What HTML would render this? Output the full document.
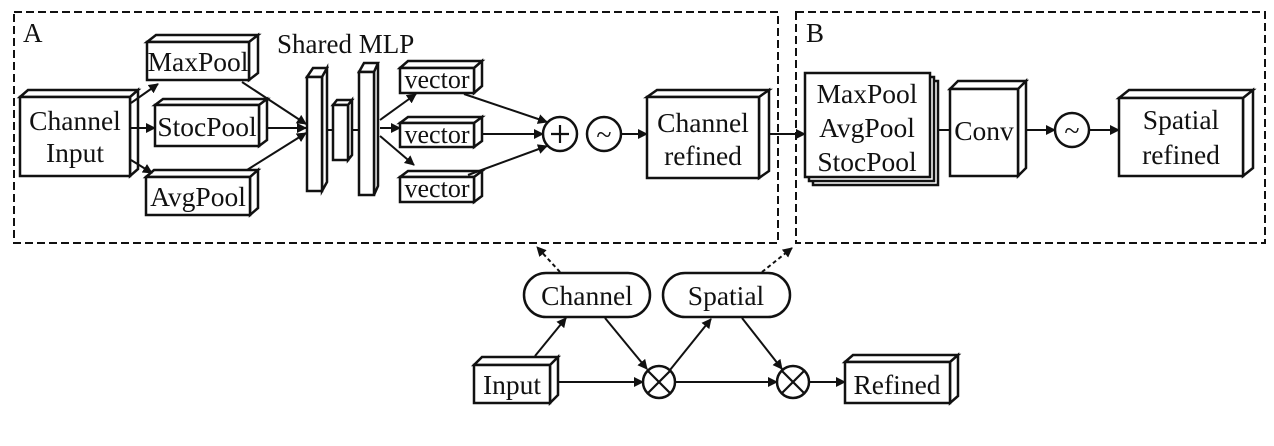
<!DOCTYPE html>
<html><head><meta charset="utf-8"><style>
body{margin:0;background:#fff}
svg{display:block}
text{font-family:"Liberation Serif",serif;fill:#111}
</style></head><body>
<svg width="1274" height="446" viewBox="0 0 1274 446" xmlns="http://www.w3.org/2000/svg">
<defs>
<marker id="a" markerWidth="10" markerHeight="10" refX="9" refY="5" orient="auto" markerUnits="userSpaceOnUse"><path d="M0,0 L10,5 L0,10 Z" fill="#111"/></marker>
</defs>
<g fill="none" stroke="#111" stroke-width="2" stroke-dasharray="8,4">
<rect x="14" y="12" width="764" height="231"/>
<rect x="796" y="12" width="469" height="231"/>
</g>
<text x="23" y="42" font-size="27">A</text>
<text x="806" y="42" font-size="27">B</text>
<text x="277" y="53" font-size="27">Shared MLP</text>

<g fill="#fff" stroke="#111" stroke-width="2.5" stroke-linejoin="miter">
<path d="M20,97 L28,90 L138,90 L130,97 Z M130,97 L138,90 L138,169 L130,176 Z"/><rect x="20" y="97" width="110" height="79"/>
<path d="M147,42 L156,35 L258,35 L249,42 Z M249,42 L258,35 L258,73 L249,80 Z"/><rect x="147" y="42" width="102" height="38"/>
<path d="M155,105 L163,99 L267,99 L259,105 Z M259,105 L267,99 L267,140 L259,146 Z"/><rect x="155" y="105" width="104" height="41"/>
<path d="M146,177 L154,170 L258,170 L250,177 Z M250,177 L258,170 L258,208 L250,215 Z"/><rect x="146" y="177" width="104" height="38"/>
<path d="M307,77 L313,68 L327,68 L322,77 Z M322,77 L327,68 L327,182 L322,191 Z"/><rect x="307" y="77" width="15" height="114"/>
<path d="M333,105 L337,100 L352,100 L348,105 Z M348,105 L352,100 L352,155 L348,160 Z"/><rect x="333" y="105" width="15" height="55"/>
<path d="M359,72 L364,63 L378,63 L374,72 Z M374,72 L378,63 L378,186 L374,195 Z"/><rect x="359" y="72" width="15" height="123"/>
<path d="M400,68 L408,61 L482,61 L474,68 Z M474,68 L482,61 L482,86 L474,93 Z"/><rect x="400" y="68" width="74" height="25"/>
<path d="M400,123 L408,117 L482,117 L474,123 Z M474,123 L482,117 L482,141 L474,147 Z"/><rect x="400" y="123" width="74" height="24"/>
<path d="M400,177 L408,171 L482,171 L474,177 Z M474,177 L482,171 L482,196 L474,202 Z"/><rect x="400" y="177" width="74" height="25"/>
<path d="M647,97 L657,90 L769,90 L759,97 Z M759,97 L769,90 L769,171 L759,178 Z"/><rect x="647" y="97" width="112" height="81"/>
<rect x="813" y="81" width="125" height="104"/>
<rect x="809" y="77" width="125" height="104"/>
<rect x="805" y="73" width="125" height="104"/>
<path d="M950,89 L958,81 L1026,81 L1018,89 Z M1018,89 L1026,81 L1026,168 L1018,176 Z"/><rect x="950" y="89" width="68" height="87"/>
<path d="M1119,98 L1129,90 L1253,90 L1243,98 Z M1243,98 L1253,90 L1253,168 L1243,176 Z"/><rect x="1119" y="98" width="124" height="78"/>
<path d="M474,365 L482,357 L558,357 L550,365 Z M550,365 L558,357 L558,395 L550,403 Z"/><rect x="474" y="365" width="76" height="38"/>
<path d="M845,362 L853,355 L958,355 L950,362 Z M950,362 L958,355 L958,396 L950,403 Z"/><rect x="845" y="362" width="105" height="41"/>
<rect x="524" y="273" width="126" height="44" rx="22"/>
<rect x="663" y="273" width="127" height="44" rx="22"/>
<circle cx="560" cy="134" r="17"/>
<circle cx="604" cy="134" r="17"/>
<circle cx="1072" cy="130" r="17"/>
<circle cx="659" cy="382" r="16"/>
<circle cx="793" cy="382" r="16"/>
</g>
<g stroke="#111" stroke-width="2.2">
<line x1="648" y1="371" x2="670" y2="393"/><line x1="670" y1="371" x2="648" y2="393"/>
<line x1="782" y1="371" x2="804" y2="393"/><line x1="804" y1="371" x2="782" y2="393"/>
<line x1="551" y1="134" x2="569" y2="134"/><line x1="560" y1="125" x2="560" y2="143"/>
</g>
<text x="604" y="144" font-size="28" text-anchor="middle">~</text>
<text x="1072" y="140" font-size="28" text-anchor="middle">~</text>

<g stroke="#111" stroke-width="2" fill="none" marker-end="url(#a)">
<line x1="131" y1="103" x2="158" y2="84"/>
<line x1="131" y1="128" x2="155" y2="128"/>
<line x1="131" y1="160" x2="152" y2="173"/>
<line x1="242" y1="82" x2="306" y2="124"/>
<line x1="268" y1="128" x2="306" y2="128"/>
<line x1="247" y1="170" x2="306" y2="133"/>
<line x1="380" y1="120" x2="416" y2="94"/>
<line x1="380" y1="128" x2="400" y2="128"/>
<line x1="380" y1="136" x2="414" y2="165"/>
<line x1="464" y1="94" x2="547" y2="122"/>
<line x1="482" y1="134" x2="543" y2="134"/>
<line x1="468" y1="175" x2="547" y2="146"/>
<line x1="621" y1="134" x2="647" y2="134"/>
<line x1="769" y1="134" x2="805" y2="134"/>
<line x1="1026" y1="130" x2="1055" y2="130"/>
<line x1="1089" y1="130" x2="1119" y2="130"/>
<line x1="535" y1="356" x2="566" y2="318"/>
<line x1="605" y1="318" x2="647" y2="369"/>
<line x1="558" y1="382" x2="643" y2="382"/>
<line x1="670" y1="370" x2="711" y2="319"/>
<line x1="742" y1="318" x2="782" y2="369"/>
<line x1="675" y1="382" x2="777" y2="382"/>
<line x1="809" y1="382" x2="845" y2="382"/>
</g>
<g stroke="#111" stroke-width="2">
<line x1="327" y1="130" x2="333" y2="130"/>
<line x1="352" y1="130" x2="359" y2="130"/>
<line x1="938" y1="130" x2="950" y2="130"/>
</g>
<g stroke="#111" stroke-width="2" stroke-dasharray="4,3" fill="none" marker-end="url(#a)">
<line x1="560" y1="272" x2="537" y2="247"/>
<line x1="762" y1="272" x2="792" y2="248"/>
</g>

<g font-size="27.5" text-anchor="middle">
<text x="75" y="130">Channel</text>
<text x="75" y="162">Input</text>
<text x="198" y="71">MaxPool</text>
<text x="207" y="136">StocPool</text>
<text x="198" y="206">AvgPool</text>
<text x="437" y="88" font-size="26">vector</text>
<text x="437" y="143" font-size="26">vector</text>
<text x="437" y="197" font-size="26">vector</text>
<text x="703" y="132">Channel</text>
<text x="703" y="165">refined</text>
<text x="867" y="103">MaxPool</text>
<text x="867" y="137">AvgPool</text>
<text x="867" y="171">StocPool</text>
<text x="984" y="140">Conv</text>
<text x="1181" y="129">Spatial</text>
<text x="1181" y="164">refined</text>
<text x="587" y="305">Channel</text>
<text x="726" y="305">Spatial</text>
<text x="512" y="394">Input</text>
<text x="897" y="394">Refined</text>
</g>
</svg>
</body></html>
